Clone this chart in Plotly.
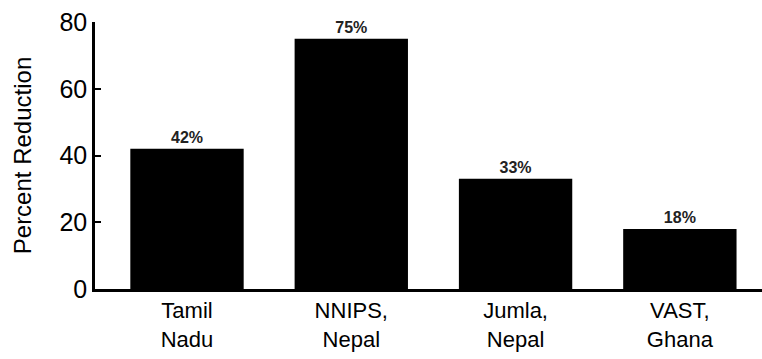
import plotly.graph_objects as go

categories = ["Tamil<br>Nadu", "NNIPS,<br>Nepal", "Jumla,<br>Nepal", "VAST,<br>Ghana"]
values = [42, 75, 33, 18]
y_ticks = [0, 20, 40, 60, 80]

fig = go.Figure(go.Bar(
    x=list(range(len(categories))), y=values,
    width=0.69,
    marker=dict(color="black", line=dict(color="black", width=0)),
    text=[f"<b>{v}%</b>" for v in values], textposition="outside",
    textfont=dict(family="Liberation Sans, Arial", size=16, color="#222"),
    cliponaxis=False,
))
fig.update_layout(
    width=762, height=359,
    margin=dict(l=95, r=0, t=22, b=70),
    paper_bgcolor="white", plot_bgcolor="white",
    font=dict(family="Liberation Sans, Arial", color="black"),
    showlegend=False,
)
fig.update_xaxes(
    range=[-0.56, 3.5], tickvals=list(range(len(categories))), ticktext=categories,
    showline=True, linecolor="black", linewidth=2.5, ticks="", showgrid=False,
    tickfont=dict(size=22, color="black"), zeroline=False,
)
fig.update_yaxes(
    range=[0, 80], tickvals=y_ticks, showline=True, linecolor="black", linewidth=2.5,
    ticks="inside", ticklen=6, tickwidth=2, tickcolor="black", showgrid=False, zeroline=False,
    tickfont=dict(size=25, color="black"),
    title=dict(text="Percent Reduction", font=dict(size=24, color="black"), standoff=22),
)
fig.write_html("out.html")
